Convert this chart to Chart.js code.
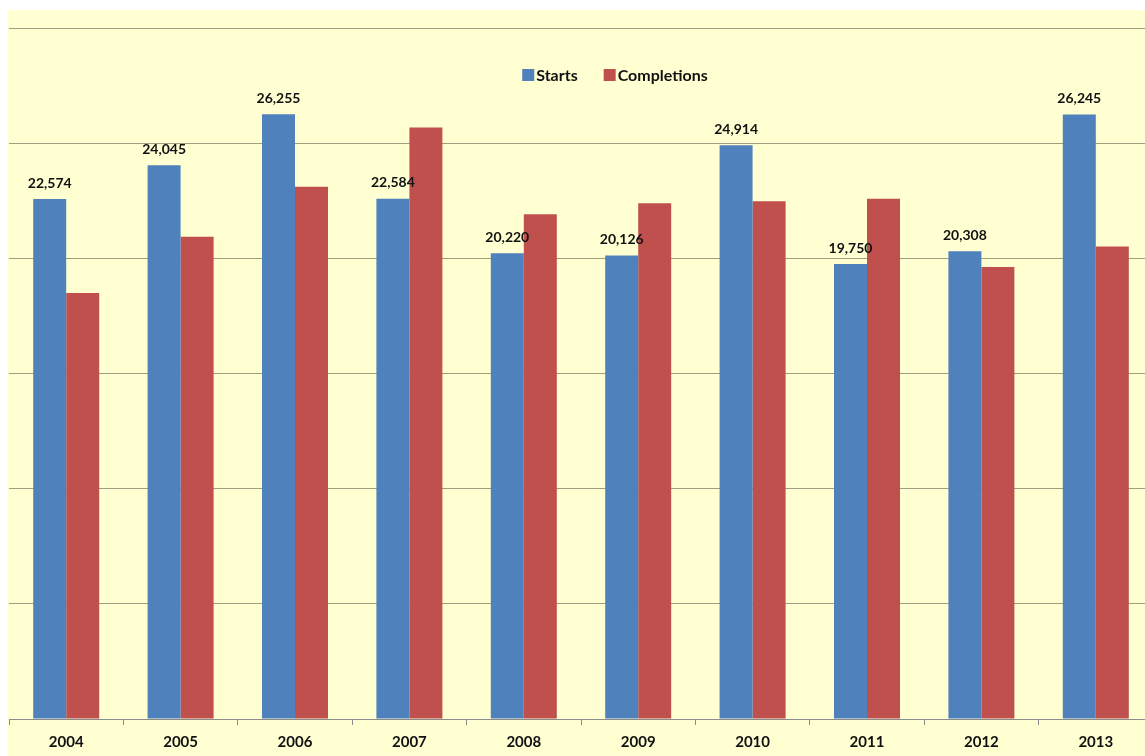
<!DOCTYPE html>
<html>
<head>
<meta charset="utf-8">
<script src="https://cdn.jsdelivr.net/npm/chart.js@4"></script>
<style>
  html, body { margin: 0; padding: 0; background: #fff; overflow: hidden; }
  #wrap { position: absolute; left: 8px; top: 10px; width: 1214px; height: 751px; }
</style>
</head>
<body>
<div id="wrap"><canvas id="starts-chart" width="1214" height="751"></canvas></div>
<script>
const years = ['2004', '2005', '2006', '2007', '2008', '2009', '2010', '2011', '2012', '2013'];
const starts = [22574, 24045, 26255, 22584, 20220, 20126, 24914, 19750, 20308, 26245];
const completions = [18490, 20940, 23110, 25680, 21910, 22390, 22480, 22590, 19620, 20510];

const FONT = 'Lato, "Open Sans", sans-serif';

// yellow fill behind the whole canvas
const background = {
  id: 'background',
  beforeDraw(chart) {
    const ctx = chart.ctx;
    ctx.save();
    ctx.fillStyle = '#FFFFD2';
    ctx.fillRect(0, 0, chart.width, chart.height);
    ctx.restore();
  }
};

// value labels above the Starts bars
const startLabels = {
  id: 'startLabels',
  afterDatasetsDraw(chart) {
    const ctx = chart.ctx;
    const meta = chart.getDatasetMeta(0);
    ctx.save();
    ctx.font = 'bold 14px ' + FONT;
    ctx.fillStyle = '#111';
    ctx.textAlign = 'center';
    ctx.textBaseline = 'bottom';
    meta.data.forEach((bar, i) => {
      ctx.fillText(starts[i].toLocaleString('en-US'), bar.x, bar.y - 9);
    });
    ctx.restore();
  }
};

// legend sitting inside the plot, near the top
const insideLegend = {
  id: 'insideLegend',
  afterDraw(chart) {
    const ctx = chart.ctx;
    const sets = chart.data.datasets;
    const box = 12, gap = 2, spacing = 26;
    ctx.save();
    ctx.font = 'bold 16px ' + FONT;
    const widths = sets.map(ds => box + gap + ctx.measureText(ds.label).width);
    const total = widths.reduce((a, b) => a + b, 0) + spacing * (sets.length - 1);
    let x = 607 - total / 2;
    const y = 65;
    ctx.textBaseline = 'middle';
    ctx.textAlign = 'left';
    sets.forEach((ds, i) => {
      ctx.fillStyle = ds.backgroundColor;
      ctx.fillRect(x, y - box / 2, box, box);
      ctx.fillStyle = '#111';
      ctx.fillText(ds.label, x + box + gap, y + 1);
      x += widths[i] + spacing;
    });
    ctx.restore();
  }
};

const ctx = document.getElementById('starts-chart');
const myChart = new Chart(ctx, {
  type: 'bar',
  data: {
    labels: years,
    datasets: [
      {
        label: 'Starts',
        data: starts,
        backgroundColor: '#4F81BD',
        categoryPercentage: 0.577,
        barPercentage: 1.0
      },
      {
        label: 'Completions',
        data: completions,
        backgroundColor: '#C0504D',
        categoryPercentage: 0.577,
        barPercentage: 1.0
      }
    ]
  },
  options: {
    responsive: false,
    animation: false,
    layout: { padding: { left: 1, right: 69, top: 18, bottom: 2 } },
    plugins: {
      tooltip: { enabled: false },
      legend: { display: false }
    },
    scales: {
      x: {
        grid: {
          display: true,
          drawOnChartArea: false,
          drawTicks: true,
          tickLength: 6,
          color: '#8C8C8C'
        },
        border: { display: true, color: '#8C8C8C', width: 1 },
        ticks: {
          color: '#111',
          padding: 8,
          font: { family: FONT, size: 15, weight: 'bold' }
        }
      },
      y: {
        min: 0,
        max: 30000,
        ticks: { display: false, stepSize: 5000 },
        grid: { color: '#9E9E80', drawTicks: false },
        border: { display: false }
      }
    }
  },
  plugins: [background, startLabels, insideLegend]
});
</script>
</body>
</html>
